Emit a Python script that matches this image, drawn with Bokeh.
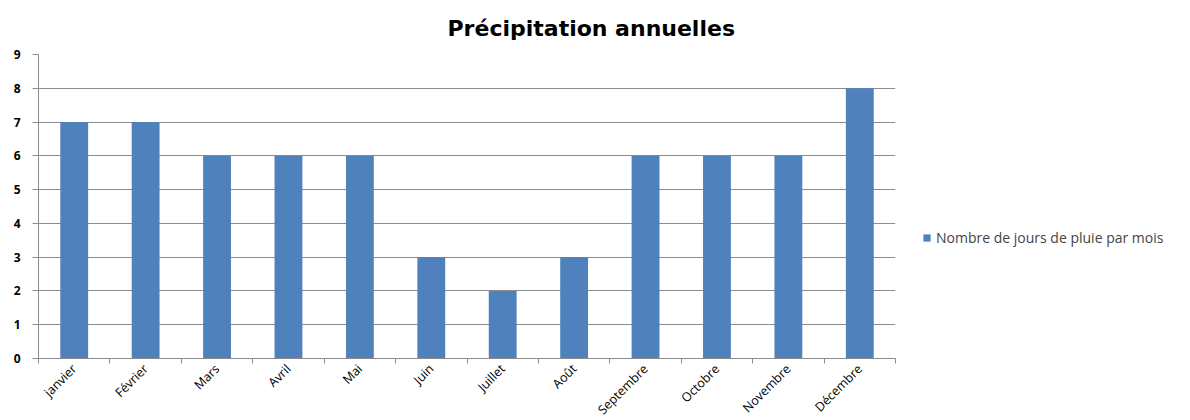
from bokeh.plotting import figure
from bokeh.models import ColumnDataSource, FixedTicker, Legend, LegendItem, Range1d
from bokeh.embed import file_html
from bokeh.resources import INLINE

months = ["janvier", "Février", "Mars", "Avril", "Mai", "Juin", "Juillet",
          "Août", "Septembre", "Octobre", "Novembre", "Décembre"]
rain_days = [7, 7, 6, 6, 6, 3, 2, 3, 6, 6, 6, 8]
y_ticks = list(range(0, 10))
series_name = "Nombre de jours de pluie par mois"

FONT = "Open Sans"
BAR = "#4F81BD"
GRID = "#8c8c8c"

centers = [i + 0.5 for i in range(len(months))]
src = ColumnDataSource(dict(x=centers, top=rain_days, month=months))

p = figure(frame_width=857, frame_height=304, output_backend="svg",
           toolbar_location=None,
           x_range=Range1d(0, len(months)), y_range=Range1d(0, 9),
           min_border_left=38, min_border_top=54, min_border_right=295,
           min_border_bottom=62)

p.title.text = "Précipitation annuelles"
p.title.text_font = "DejaVu Sans"
p.title.text_font_size = "22px"
p.title.text_font_style = "bold"
p.title.align = "left"
p.title.offset = 409
p.title.standoff = 27
p.title.text_color = "#000000"

r = p.vbar(x="x", top="top", width=0.39, bottom=0, source=src,
           fill_color=BAR, line_color=None)

# x axis: month names centred on the bars, tick marks between months
xa = p.xaxis[0]
xa.ticker = FixedTicker(ticks=centers, minor_ticks=list(range(len(months) + 1)))
xa.major_label_overrides = {c: m for c, m in zip(centers, months)}
xa.major_label_orientation = 0.785
xa.major_tick_out = 0
xa.major_tick_in = 0
xa.minor_tick_out = 5
xa.minor_tick_in = 0
xa.minor_tick_line_color = GRID
xa.axis_line_color = GRID
xa.major_label_text_font = FONT
xa.major_label_text_font_size = "12.5px"
xa.major_label_text_color = "#000000"
xa.major_label_standoff = 3

ya = p.yaxis[0]
ya.ticker = FixedTicker(ticks=y_ticks)
ya.major_tick_out = 6
ya.major_tick_in = 0
ya.major_tick_line_color = GRID
ya.minor_tick_line_color = None
ya.axis_line_color = GRID
ya.major_label_text_font = FONT
ya.major_label_text_font_size = "12px"
ya.major_label_text_font_style = "bold"
ya.major_label_text_color = "#000000"
ya.major_label_standoff = 12

p.xgrid.grid_line_color = None
p.ygrid.grid_line_color = GRID
p.ygrid.ticker = FixedTicker(ticks=y_ticks)
p.outline_line_color = None

legend = Legend(items=[LegendItem(label=series_name, renderers=[r])],
                location=(27, 111), glyph_width=9, glyph_height=9,
                label_text_font=FONT, label_text_font_size="14px",
                label_standoff=5, padding=0, margin=0, spacing=0,
                border_line_color=None, background_fill_alpha=0)
p.add_layout(legend, "right")

open("out.html", "w").write(file_html(p, INLINE))
